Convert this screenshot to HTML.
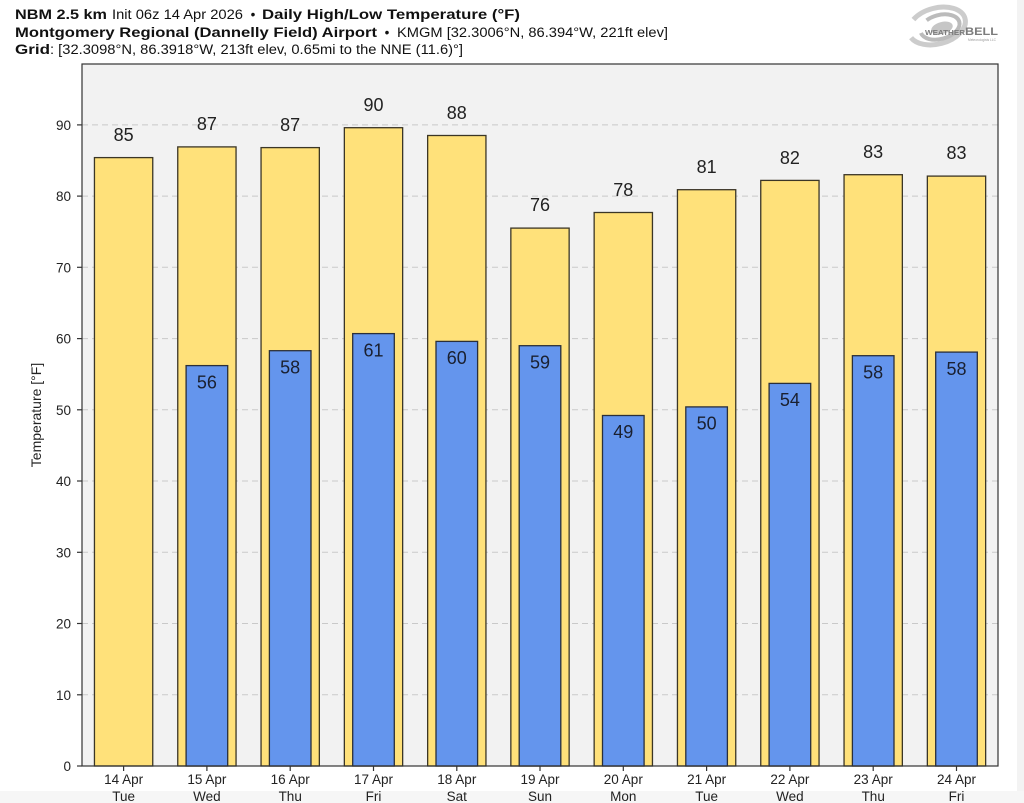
<!DOCTYPE html>
<html>
<head>
<meta charset="utf-8">
<style>
html,body{margin:0;padding:0;background:#fff;}
svg{display:block;}
text{font-family:"Liberation Sans","DejaVu Sans",sans-serif;}
</style>
</head>
<body>
<svg width="1024" height="803" viewBox="0 0 1024 803" xmlns="http://www.w3.org/2000/svg">
<rect x="0" y="0" width="1024" height="803" fill="#ffffff"/>
<rect x="1017" y="0" width="7" height="803" fill="#f3f3f3"/>
<rect x="0" y="791" width="1024" height="12" fill="#f6f6f6"/>

<!-- Header -->
<g font-size="13.5" fill="#111">
  <text x="15" y="19" font-weight="bold" textLength="92" lengthAdjust="spacingAndGlyphs">NBM 2.5 km</text>
  <text x="112" y="19" textLength="131" lengthAdjust="spacingAndGlyphs">Init 06z 14 Apr 2026</text>
  <text x="253" y="19" text-anchor="middle">•</text>
  <text x="262" y="19" font-weight="bold" textLength="258" lengthAdjust="spacingAndGlyphs">Daily High/Low Temperature (°F)</text>

  <text x="15" y="37" font-weight="bold" textLength="362" lengthAdjust="spacingAndGlyphs">Montgomery Regional (Dannelly Field) Airport</text>
  <text x="387" y="37" text-anchor="middle">•</text>
  <text x="397" y="37" textLength="271" lengthAdjust="spacingAndGlyphs">KMGM [32.3006°N, 86.394°W, 221ft elev]</text>

  <text x="15" y="54" font-weight="bold" textLength="35" lengthAdjust="spacingAndGlyphs">Grid</text>
  <text x="50" y="54" textLength="413" lengthAdjust="spacingAndGlyphs">: [32.3098°N, 86.3918°W, 213ft elev, 0.65mi to the NNE (11.6)°]</text>
</g>

<!-- Logo -->
<g opacity="0.85">
  <ellipse cx="937" cy="26" rx="29" ry="18" fill="none" stroke="#c4c4c4" stroke-width="5" transform="rotate(-15 937 26)" stroke-dasharray="70 20"/>
  <ellipse cx="940" cy="27" rx="20" ry="12" fill="none" stroke="#b0b0b0" stroke-width="4" transform="rotate(-15 940 27)" stroke-dasharray="50 15"/>
  <ellipse cx="942" cy="28" rx="11" ry="6" fill="#bdbdbd" transform="rotate(-15 942 28)"/>
  <text x="925" y="35" font-family="Liberation Serif, serif" font-size="7.5" fill="#666" font-weight="bold" textLength="40" lengthAdjust="spacingAndGlyphs">WEATHER</text>
  <text x="965" y="35" font-family="Liberation Serif, serif" font-size="11" fill="#666" font-weight="bold" textLength="33" lengthAdjust="spacingAndGlyphs">BELL</text>
  <text x="968" y="41" font-size="3.5" fill="#888" textLength="28" lengthAdjust="spacingAndGlyphs">Meteorologists LLC</text>
</g>

<!-- Plot area -->
<rect x="82" y="64" width="916" height="702" fill="#f2f2f2"/>

<!-- gridlines -->
<g stroke="#c9c9c9" stroke-width="1" stroke-dasharray="6 4">
  <line x1="82" x2="998" y1="694.8" y2="694.8"/>
  <line x1="82" x2="998" y1="623.5" y2="623.5"/>
  <line x1="82" x2="998" y1="552.3" y2="552.3"/>
  <line x1="82" x2="998" y1="481.0" y2="481.0"/>
  <line x1="82" x2="998" y1="409.8" y2="409.8"/>
  <line x1="82" x2="998" y1="338.6" y2="338.6"/>
  <line x1="82" x2="998" y1="267.3" y2="267.3"/>
  <line x1="82" x2="998" y1="196.1" y2="196.1"/>
  <line x1="82" x2="998" y1="124.9" y2="124.9"/>
</g>

<!-- High bars -->
<g fill="#ffe17a" stroke="#3b3626" stroke-width="1.3">
  <rect x="94.45" y="157.6" width="58.3" height="608.4"/>
  <rect x="177.75" y="146.9" width="58.3" height="619.1"/>
  <rect x="261.05" y="147.6" width="58.3" height="618.4"/>
  <rect x="344.35" y="127.7" width="58.3" height="638.3"/>
  <rect x="427.65" y="135.5" width="58.3" height="630.5"/>
  <rect x="510.85" y="228.1" width="58.3" height="537.9"/>
  <rect x="594.15" y="212.5" width="58.3" height="553.5"/>
  <rect x="677.45" y="189.7" width="58.3" height="576.3"/>
  <rect x="760.75" y="180.4" width="58.3" height="585.6"/>
  <rect x="844.05" y="174.7" width="58.3" height="591.3"/>
  <rect x="927.35" y="176.1" width="58.3" height="589.9"/>
</g>

<!-- Low bars -->
<g fill="#6495ed" stroke="#2a2f3a" stroke-width="1.3">
  <rect x="186.1" y="365.6" width="41.6" height="400.4"/>
  <rect x="269.4" y="350.7" width="41.6" height="415.3"/>
  <rect x="352.7" y="333.6" width="41.6" height="432.4"/>
  <rect x="436.0" y="341.4" width="41.6" height="424.6"/>
  <rect x="519.2" y="345.7" width="41.6" height="420.3"/>
  <rect x="602.5" y="415.5" width="41.6" height="350.5"/>
  <rect x="685.8" y="406.9" width="41.6" height="359.1"/>
  <rect x="769.1" y="383.4" width="41.6" height="382.6"/>
  <rect x="852.4" y="355.7" width="41.6" height="410.3"/>
  <rect x="935.7" y="352.1" width="41.6" height="413.9"/>
</g>

<!-- High labels -->
<g font-size="18" fill="#222" text-anchor="middle">
  <text x="123.6" y="141">85</text>
  <text x="206.9" y="130">87</text>
  <text x="290.2" y="131">87</text>
  <text x="373.5" y="111">90</text>
  <text x="456.8" y="119">88</text>
  <text x="540.0" y="211">76</text>
  <text x="623.3" y="196">78</text>
  <text x="706.6" y="173">81</text>
  <text x="789.9" y="164">82</text>
  <text x="873.2" y="158">83</text>
  <text x="956.5" y="159">83</text>
</g>

<!-- Low labels -->
<g font-size="18" fill="#1a2030" text-anchor="middle">
  <text x="206.9" y="388.5">56</text>
  <text x="290.2" y="373.5">58</text>
  <text x="373.5" y="356.5">61</text>
  <text x="456.8" y="364">60</text>
  <text x="540.0" y="368.5">59</text>
  <text x="623.3" y="438">49</text>
  <text x="706.6" y="429.5">50</text>
  <text x="789.9" y="406">54</text>
  <text x="873.2" y="378.5">58</text>
  <text x="956.5" y="375">58</text>
</g>

<!-- Frame -->
<rect x="82" y="64" width="916" height="702" fill="none" stroke="#333" stroke-width="1.2"/>

<!-- Y ticks -->
<g stroke="#333" stroke-width="1.2">
  <line x1="77" x2="82" y1="766" y2="766"/>
  <line x1="77" x2="82" y1="694.8" y2="694.8"/>
  <line x1="77" x2="82" y1="623.5" y2="623.5"/>
  <line x1="77" x2="82" y1="552.3" y2="552.3"/>
  <line x1="77" x2="82" y1="481.0" y2="481.0"/>
  <line x1="77" x2="82" y1="409.8" y2="409.8"/>
  <line x1="77" x2="82" y1="338.6" y2="338.6"/>
  <line x1="77" x2="82" y1="267.3" y2="267.3"/>
  <line x1="77" x2="82" y1="196.1" y2="196.1"/>
  <line x1="77" x2="82" y1="124.9" y2="124.9"/>
</g>
<g font-size="13.5" fill="#222" text-anchor="end">
  <text x="71" y="771">0</text>
  <text x="71" y="699.8">10</text>
  <text x="71" y="628.5">20</text>
  <text x="71" y="557.3">30</text>
  <text x="71" y="486">40</text>
  <text x="71" y="414.8">50</text>
  <text x="71" y="343.6">60</text>
  <text x="71" y="272.3">70</text>
  <text x="71" y="201.1">80</text>
  <text x="71" y="129.9">90</text>
</g>

<text x="41" y="415" font-size="14" fill="#222" text-anchor="middle" transform="rotate(-90 41 415)">Temperature [°F]</text>

<!-- X ticks -->
<g stroke="#333" stroke-width="1.2">
  <line x1="123.6" x2="123.6" y1="766" y2="771"/>
  <line x1="206.9" x2="206.9" y1="766" y2="771"/>
  <line x1="290.2" x2="290.2" y1="766" y2="771"/>
  <line x1="373.5" x2="373.5" y1="766" y2="771"/>
  <line x1="456.8" x2="456.8" y1="766" y2="771"/>
  <line x1="540.0" x2="540.0" y1="766" y2="771"/>
  <line x1="623.3" x2="623.3" y1="766" y2="771"/>
  <line x1="706.6" x2="706.6" y1="766" y2="771"/>
  <line x1="789.9" x2="789.9" y1="766" y2="771"/>
  <line x1="873.2" x2="873.2" y1="766" y2="771"/>
  <line x1="956.5" x2="956.5" y1="766" y2="771"/>
</g>
<g font-size="13.5" fill="#222" text-anchor="middle">
  <text x="123.6" y="784">14 Apr</text><text x="123.6" y="801">Tue</text>
  <text x="206.9" y="784">15 Apr</text><text x="206.9" y="801">Wed</text>
  <text x="290.2" y="784">16 Apr</text><text x="290.2" y="801">Thu</text>
  <text x="373.5" y="784">17 Apr</text><text x="373.5" y="801">Fri</text>
  <text x="456.8" y="784">18 Apr</text><text x="456.8" y="801">Sat</text>
  <text x="540.0" y="784">19 Apr</text><text x="540.0" y="801">Sun</text>
  <text x="623.3" y="784">20 Apr</text><text x="623.3" y="801">Mon</text>
  <text x="706.6" y="784">21 Apr</text><text x="706.6" y="801">Tue</text>
  <text x="789.9" y="784">22 Apr</text><text x="789.9" y="801">Wed</text>
  <text x="873.2" y="784">23 Apr</text><text x="873.2" y="801">Thu</text>
  <text x="956.5" y="784">24 Apr</text><text x="956.5" y="801">Fri</text>
</g>
</svg>
</body>
</html>
